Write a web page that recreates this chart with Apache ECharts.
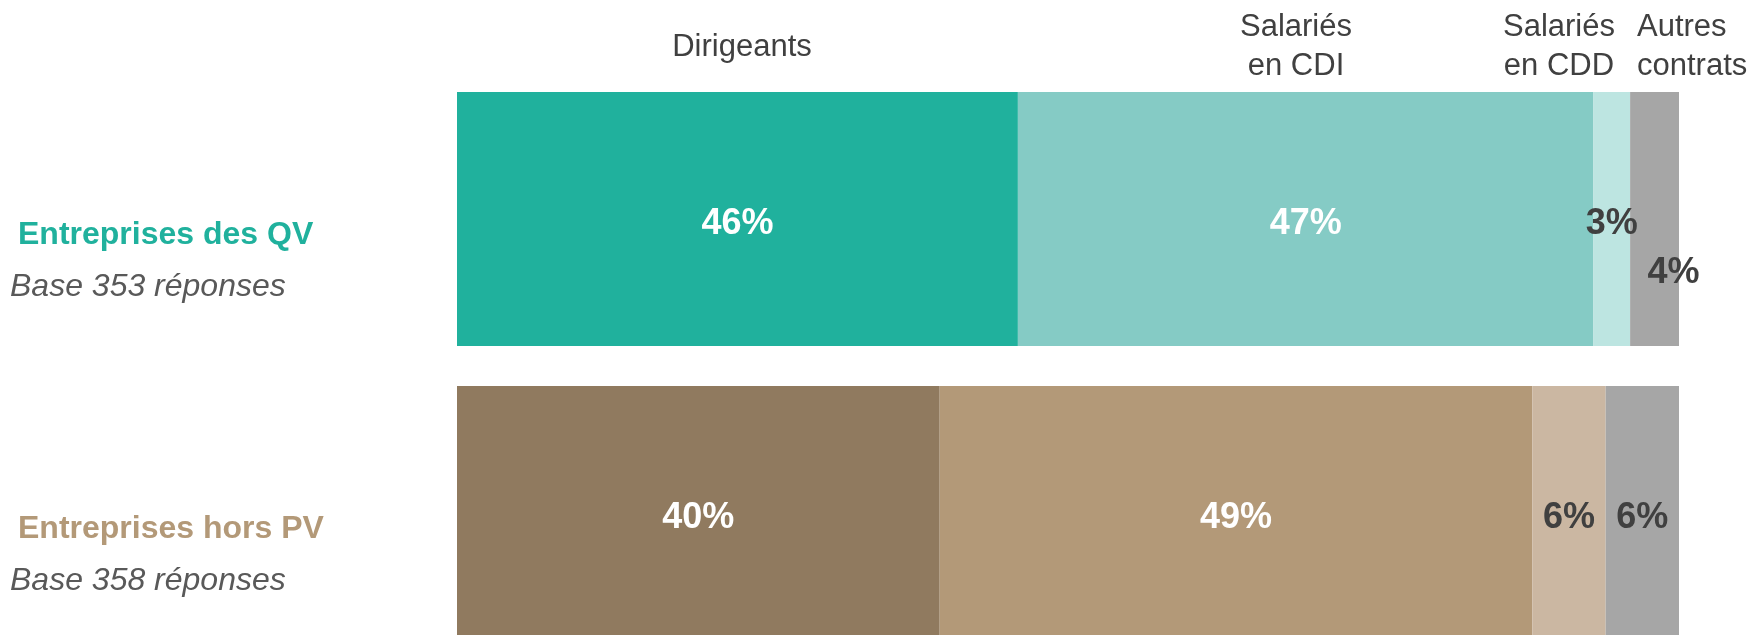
<!DOCTYPE html>
<html>
<head>
<meta charset="utf-8">
<script src="https://cdn.jsdelivr.net/npm/echarts@6/dist/echarts.min.js"></script>
<style>
  html, body { margin: 0; padding: 0; background: #ffffff; overflow: hidden; width: 1752px; height: 635px; }
  #chart { width: 1752px; height: 665px; }
</style>
</head>
<body>
<div id="chart"></div>
<script>
// ---- Data ----
const categories = ['Entreprises des QV', 'Entreprises hors PV'];
const bases = ['Base 353 réponses', 'Base 358 réponses'];
const seriesNames = ['Dirigeants', 'Salariés en CDI', 'Salariés en CDD', 'Autres contrats'];
const dirigeants = [45.9, 39.5];
const salariesCDI = [47.1, 48.5];
const salariesCDD = [3.0, 6.0];
const autresContrats = [4.0, 6.0];

// ---- Styles ----
const FONT = "'Liberation Sans', Arial, sans-serif";
const colorsQV = ['#20B19D', '#85CBC5', '#BDE5E1', '#A6A6A6'];
const colorsPV = ['#907A5F', '#B39978', '#CBB7A2', '#A6A6A6'];
const labelColors = ['#FFFFFF', '#FFFFFF', '#404040', '#404040'];
const catColors = ['#20B19D', '#B39978'];

const seriesValues = [dirigeants, salariesCDI, salariesCDD, autresContrats];

const chart = echarts.init(document.getElementById('chart'), null, { renderer: 'canvas' });

const series = seriesValues.map((vals, s) => ({
  name: seriesNames[s],
  type: 'bar',
  stack: 'total',
  barWidth: 254,
  data: vals.map((v, i) => {
    const item = {
      value: v,
      itemStyle: { color: (i === 0 ? colorsQV : colorsPV)[s] }
    };
    if (s === 3 && i === 0) {
      item.label = { offset: [19, 54] };
    }
    return item;
  }),
  label: {
    show: true,
    position: 'inside',
    offset: [0, 5],
    formatter: p => Math.round(p.value) + '%',
    color: labelColors[s],
    fontFamily: FONT,
    fontWeight: 'bold',
    fontSize: 36
  },
  emphasis: { disabled: true }
}));

const headerStyle = { font: "31px " + FONT, fill: '#404040', textVerticalAlign: 'middle' };
function headerText(text, x, y, align) {
  return { type: 'text', style: Object.assign({}, headerStyle, { text: text, x: x, y: y, textAlign: align || 'center' }) };
}

chart.setOption({
  animation: false,
  grid: { left: 457, right: 73, top: 72, height: 588, containLabel: false },
  xAxis: { type: 'value', min: 0, max: 100, show: false },
  yAxis: {
    type: 'category',
    inverse: true,
    data: categories,
    axisLine: { show: false },
    axisTick: { show: false },
    axisLabel: {
      align: 'left',
      margin: 447,
      padding: [84, 0, 0, 0],
      formatter: (val, idx) => '{c' + idx + '|' + val + '}\n{b|' + bases[idx] + '}',
      rich: {
        c0: { color: catColors[0], fontFamily: FONT, fontWeight: 'bold', fontSize: 32, lineHeight: 52, padding: [0, 0, 0, 8] },
        c1: { color: catColors[1], fontFamily: FONT, fontWeight: 'bold', fontSize: 32, lineHeight: 52, padding: [0, 0, 0, 8] },
        b: { color: '#595959', fontFamily: FONT, fontStyle: 'italic', fontSize: 32, lineHeight: 52 }
      }
    }
  },
  graphic: [
    headerText('Dirigeants', 742, 47.5),
    headerText('Salariés', 1296, 27.5),
    headerText('en CDI', 1296, 66.5),
    headerText('Salariés', 1559, 27.5),
    headerText('en CDD', 1559, 66.5),
    headerText('Autres', 1637, 27.5, 'left'),
    headerText('contrats', 1637, 66.5, 'left')
  ],
  series: series
});
</script>
</body>
</html>
